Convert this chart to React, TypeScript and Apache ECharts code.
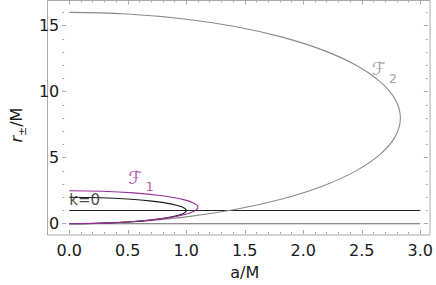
import React, { useEffect, useRef } from "react";
import * as echarts from "echarts";

// [a/M, r/M] points
const kZeroCurve: number[][] = [
  [0, 2], [0.259, 1.966], [0.5, 1.866], [0.707, 1.707], [0.866, 1.5], [0.966, 1.259], [1, 1],
  [0.966, 0.741], [0.866, 0.5], [0.707, 0.293], [0.5, 0.134], [0.259, 0.034], [0, 0],
];
const f1Curve: number[][] = [
  [0, 2.5], [0.285, 2.457], [0.55, 2.333], [0.778, 2.134], [0.953, 1.875], [1.062, 1.574], [1.1, 1.25],
  [1.062, 0.926], [0.953, 0.625], [0.778, 0.366], [0.55, 0.167], [0.285, 0.043], [0, 0],
];
const f2Curve: number[][] = [
  [0, 16], [0.491, 15.878], [0.968, 15.518], [1.415, 14.928], [1.819, 14.128], [2.168, 13.142],
  [2.451, 12.0], [2.659, 10.736], [2.787, 9.389], [2.83, 8.0], [2.787, 6.611], [2.659, 5.264],
  [2.451, 4.0], [2.168, 2.858], [1.819, 1.872], [1.415, 1.072], [0.968, 0.482], [0.491, 0.122], [0, 0],
];
const horizonOne: number[][] = [[0, 1], [3, 1]];
const horizonZero: number[][] = [[0, 0], [3, 0]];

const labelPoints = [
  { value: [0.0, 1.8], text: "k=0", kind: "plain" },
  { value: [0.505, 3.25], text: "1", kind: "f1" },
  { value: [2.585, 11.45], text: "2", kind: "f2" },
];

const X_MIN = 0, X_MAX = 3, Y_MIN = 0, Y_MAX = 16.9;
const X_MAJOR = 0.5, X_MINOR = 0.1, Y_MAJOR = 5, Y_MINOR = 1;

const PURPLE = "#9a2e9a";
const GRAY = "#8a8a8a";
const FRAME = "#aaaaaa";
const INK = "#1a1a1a";
const FONT = "'DejaVu Sans', 'Liberation Sans', Arial, sans-serif";

function axis(kind: "x" | "y", position: string, interval: number, tickLen: number, labels: boolean, offset: number) {
  const isX = kind === "x";
  return {
    type: "value",
    gridIndex: 1,
    position,
    offset,
    min: isX ? X_MIN : Y_MIN,
    max: isX ? X_MAX : Y_MAX,
    interval,
    axisLine: { show: false, onZero: false },
    splitLine: { show: false },
    axisTick: { show: true, inside: true, length: tickLen, lineStyle: { color: FRAME, width: 1 } },
    axisLabel: labels
      ? {
          show: true,
          color: INK,
          fontFamily: FONT,
          fontSize: 16,
          margin: isX ? 8.5 : 3,
          formatter: (v: number) => {
            const q = v / interval;
            if (Math.abs(q - Math.round(q)) > 1e-6) return "";
            return isX ? v.toFixed(1) : String(Math.round(v));
          },
        }
      : { show: false },
  };
}

const hiddenAxis = { type: "value", gridIndex: 0, show: false, min: 0, max: 1 };

export default function App() {
  const ref = useRef<HTMLDivElement>(null);
  useEffect(() => {
    if (!ref.current) return;
    const chart = echarts.init(ref.current, undefined, { renderer: "svg" });
    const xMain: any = axis("x", "bottom", X_MAJOR, 4, true, 10.3);
    xMain.name = "a/M";
    xMain.nameLocation = "middle";
    xMain.nameGap = 30;
    xMain.nameTextStyle = { color: INK, fontFamily: FONT, fontSize: 16 };
    const yMain: any = axis("y", "left", Y_MAJOR, 4, true, 7);
    yMain.name = "{i|r}{s|±}{n|/M}";
    yMain.nameLocation = "middle";
    yMain.nameGap = 18;
    yMain.nameTextStyle = {
      color: INK,
      fontFamily: FONT,
      fontSize: 16,
      padding: [0, 26, 0, 0],
      rich: {
        i: { fontStyle: "italic", fontSize: 16, fontFamily: FONT, color: INK, verticalAlign: "bottom", padding: [0, 0, 4, 0] },
        s: { fontSize: 11, fontFamily: FONT, color: INK, verticalAlign: "bottom" },
        n: { fontSize: 16, fontFamily: FONT, color: INK, verticalAlign: "bottom", padding: [0, 0, 4, 0] },
      },
    };
    const lineSeries = (data: number[][], color: string, smooth: number | boolean) => ({
      type: "line",
      data,
      showSymbol: false,
      smooth,
      clip: false,
      lineStyle: { color, width: 1.1 },
      xAxisIndex: 0,
      yAxisIndex: 0,
      silent: true,
    });
    chart.setOption({
      animation: false,
      grid: [
        { left: 47.5, right: 6, top: 0.5, bottom: 50, show: true, borderColor: FRAME, borderWidth: 1, backgroundColor: "transparent" },
        { left: 54.5, right: 13.5, top: 0.5, bottom: 60.3 },
      ],
      xAxis: [
        xMain,
        axis("x", "bottom", X_MINOR, 2, false, 10.3),
        axis("x", "top", X_MAJOR, 4, false, 0),
        axis("x", "top", X_MINOR, 2, false, 0),
        hiddenAxis,
      ],
      yAxis: [
        yMain,
        axis("y", "left", Y_MINOR, 2, false, 7),
        axis("y", "right", Y_MAJOR, 4, false, 7.5),
        axis("y", "right", Y_MINOR, 2, false, 7.5),
        hiddenAxis,
      ],
      series: [
        lineSeries(horizonZero, "#666666", false),
        lineSeries(horizonOne, "#222222", false),
        lineSeries(f2Curve, GRAY, 0.4),
        lineSeries(kZeroCurve, INK, 0.4),
        lineSeries(f1Curve, PURPLE, 0.4),
        {
          type: "scatter",
          symbolSize: 0,
          silent: true,
          clip: false,
          xAxisIndex: 0,
          yAxisIndex: 0,
          data: labelPoints.map((p) => ({
            value: p.value,
            label: {
              show: true,
              position: [0, 0],
              align: "left",
              verticalAlign: "middle",
              formatter: p.kind === "plain" ? p.text : `{f|\u2131}{s|${p.text}}`,
              color: p.kind === "f1" ? PURPLE : p.kind === "f2" ? GRAY : INK,
              fontFamily: FONT,
              fontSize: 15,
              rich: {
                f: {
                  fontFamily: "'DejaVu Serif', 'DejaVu Sans', serif",
                  fontStyle: "italic",
                  fontSize: 18,
                  color: p.kind === "f1" ? PURPLE : GRAY,
                  verticalAlign: "bottom",
                  padding: [0, 3, 7, 0],
                },
                s: {
                  fontFamily: FONT,
                  fontSize: 13,
                  color: p.kind === "f1" ? PURPLE : GRAY,
                  verticalAlign: "bottom",
                },
              },
            },
          })),
        },
      ],
    });
    return () => chart.dispose();
  }, []);
  return <div ref={ref} style={{ position: "absolute", left: 0, top: 0, width: 436, height: 285 }} />;
}
